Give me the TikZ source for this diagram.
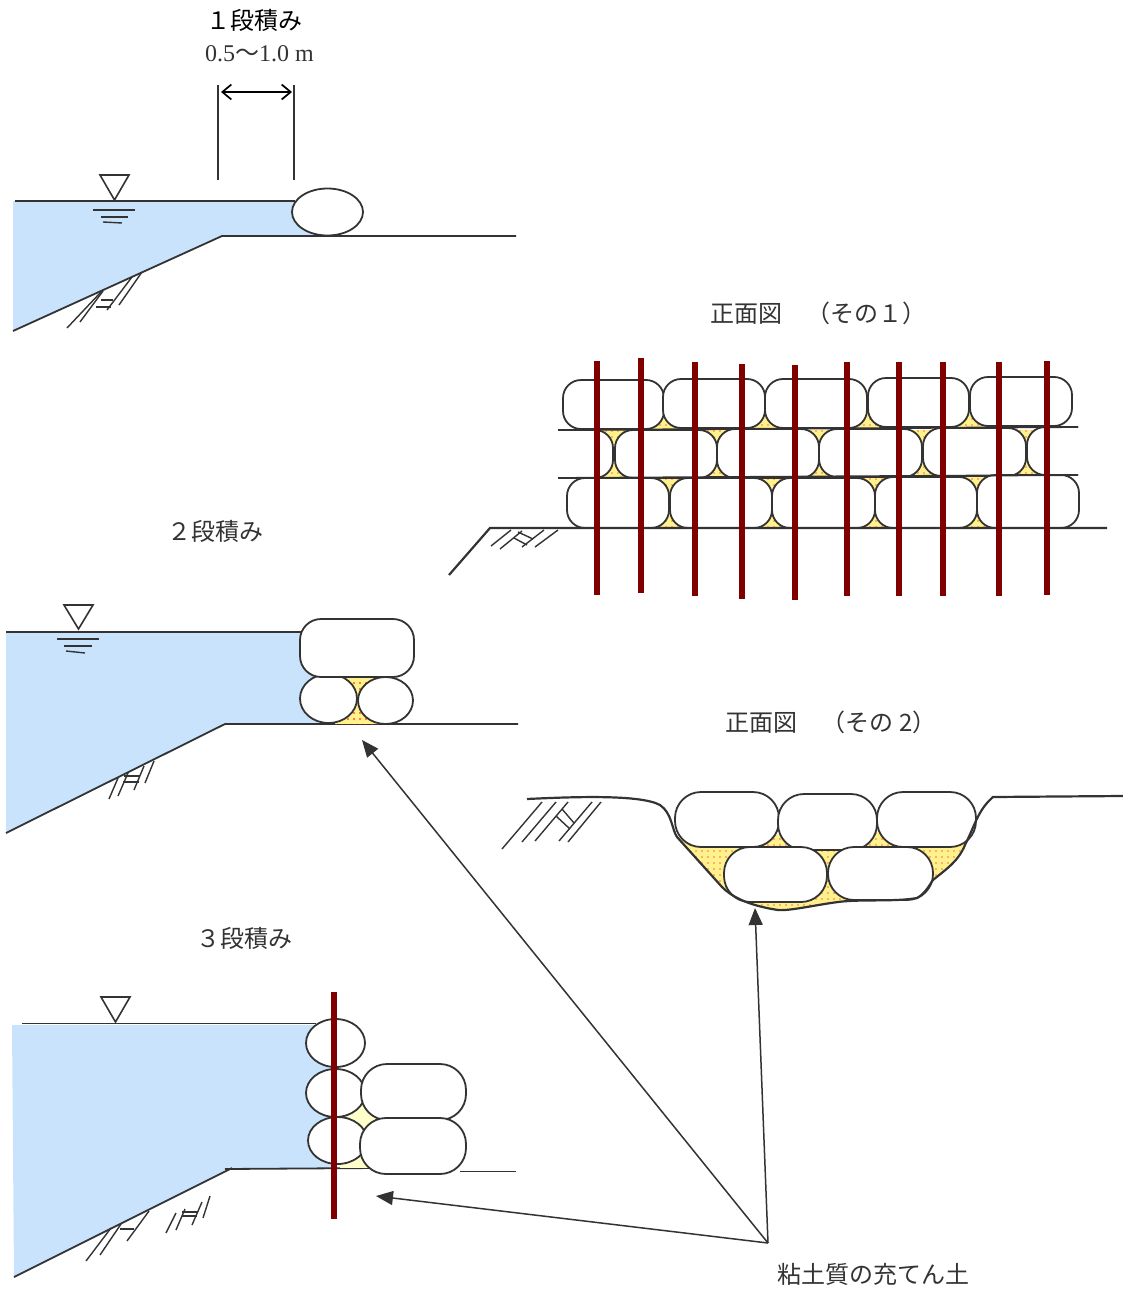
\documentclass[tikz,border=0pt]{standalone}
\usepackage{fontspec}
\setmainfont{Liberation Serif}
\newfontfamily\jpfont{Noto Sans CJK JP}
\usetikzlibrary{arrows.meta,patterns.meta,shapes.geometric}
\definecolor{waterblue}{HTML}{C9E3FC}
\definecolor{clayyellow}{HTML}{FFF28A}
\definecolor{claypale}{HTML}{FFFFCC}
\definecolor{rodred}{HTML}{800000}
\definecolor{inkgray}{HTML}{333333}
\tikzset{
	ink/.style={draw=inkgray,line width=1.8pt},
	thinink/.style={draw=inkgray,line width=1.4pt},
	water/.style={fill=waterblue,draw=none},
	clay/.style={fill=clayyellow,draw=none,postaction={pattern={Dots[radius=.8pt,distance=6pt]},pattern color=#1}},
	clay/.default={red!60!white},
	rod/.style={draw=rodred,line width=6pt},
	wmark/.style={draw=inkgray,line width=1.6pt,fill=white},
	bag/.style={ink,fill=white,rectangle,rounded corners=18pt,inner sep=0pt,minimum width=#1},
	log/.style={ink,fill=white,ellipse,inner sep=0pt},
	caption/.style={font=\fontsize{24}{27}\selectfont,text=inkgray,inner sep=0pt,anchor=center},
	callout/.style={draw=inkgray,line width=1.5pt,-{Triangle[length=17pt,width=14pt]}}
}
\begin{document}
\begin{tikzpicture}[x=1pt,y=-1pt]
	\useasboundingbox (0,0) rectangle (1123,1295);

	% one layer
	\node[caption,text=black] (oneT) at (254,20) {\jpfont １段積み};
	\node[caption] (oneW) at (259.5,53.5) {0.5{\jpfont 〜}1.0 m};
	\fill[water] (13,201) -- (320,201) -- (320,236) -- (222,236) -- (13,331) -- cycle;
	\draw[ink] (15,201) -- (295,201);
	\draw[ink] (13,331) -- (222,236) -- (516,236);
	\draw[thinink] (218,85) -- (218,180);
	\draw[thinink] (294,85) -- (294,180);
	\coordinate (dimL) at (221,92);
	\coordinate (dimR) at (292,92);
	\draw[draw=black,line width=1.7pt,{Straight Barb[length=9pt,width=15pt]}-{Straight Barb[length=9pt,width=15pt]}] (dimL) -- (dimR);
	\node[log,minimum width=71pt,minimum height=47pt] (oneL) at (327.5,212) {};
	\draw[wmark] (100,175) -- (129,175) -- (114.5,200) -- cycle;
	\draw[thinink] (93,210) -- (135,210);
	\draw[thinink] (101,217) -- (128,217);
	\draw[thinink] (103,222) -- (122,223);
	\draw[thinink] (67,328) -- (101,292);
	\draw[thinink] (80,322) -- (103,291);
	\draw[thinink] (107,310) -- (132,277);
	\draw[thinink] (119,305) -- (142,272);
	\draw[thinink] (101,300) -- (113,300);
	\draw[thinink] (96,307) -- (111,307);

	% two layers
	\node[caption] (twoT) at (215.5,531) {\jpfont ２段積み};
	\fill[water] (6,632) -- (328,632) -- (328,724) -- (225,724) -- (6,833) -- cycle;
	\draw[ink] (6,632) -- (302,632);
	\draw[ink] (6,833) -- (225,724) -- (518,724);
	\fill[clay={red}] (335,677) rectangle (382,724);
	\node[log,minimum width=57pt,minimum height=49pt] (twoA) at (328.5,698.5) {};
	\node[log,minimum width=55pt,minimum height=47pt] (twoB) at (385.5,700.5) {};
	\node[bag=114pt,minimum height=58pt,rounded corners=21pt] (twoC) at (357,648) {};
	\draw[wmark] (64,605) -- (93,605) -- (78.5,629) -- cycle;
	\draw[thinink] (57,639) -- (99,639);
	\draw[thinink] (64,646) -- (92,646);
	\draw[thinink] (66,651) -- (85,653);
	\draw[thinink] (109,799) -- (118,778);
	\draw[thinink] (118,796) -- (128,773);
	\draw[thinink] (134,790) -- (144,766);
	\draw[thinink] (145,783) -- (154,761);
	\draw[thinink] (124,776) -- (140,776);
	\draw[thinink] (123,782) -- (139,782);

	% three layers
	\node[caption] (threeT) at (244,938) {\jpfont ３段積み};
	\fill[water] (12,1025) -- (332,1025) -- (332,1168) -- (232,1168) -- (14,1277) -- cycle;
	\draw[ink] (22,1023.5) -- (316,1023.5);
	\draw[ink] (14,1277) -- (232,1168);
	\draw[ink] (225,1169) -- (375,1168);
	\draw[ink] (460,1171.5) -- (516,1171.5);
	\fill[claypale] (340,1105) rectangle (385,1168);
	\node[log,minimum width=59pt,minimum height=48pt] (threeA) at (335.5,1043) {};
	\node[log,minimum width=59pt,minimum height=48pt] (threeB) at (335.5,1093) {};
	\node[log,minimum width=59pt,minimum height=47pt] (threeC) at (337.5,1140.5) {};
	\node[bag=105pt,minimum height=56pt,rounded corners=26pt] (threeD) at (413.5,1092) {};
	\node[bag=106pt,minimum height=56pt,rounded corners=26pt] (threeE) at (413,1146) {};
	\draw[rod] (334,992) -- (334,1219);
	\draw[wmark] (101,997) -- (130,997) -- (115.5,1022) -- cycle;
	\draw[thinink] (86,1261) -- (111,1228);
	\draw[thinink] (100,1255) -- (121,1224);
	\draw[thinink] (127,1241) -- (149,1211);
	\draw[thinink] (120,1229) -- (134,1229);
	\draw[thinink] (166,1233) -- (176,1213);
	\draw[thinink] (176,1230) -- (185,1209);
	\draw[thinink] (192,1225) -- (202,1202);
	\draw[thinink] (203,1218) -- (210,1196);
	\draw[thinink] (182,1212) -- (198,1212);
	\draw[thinink] (182,1216) -- (197,1216);

	% front view 1
	\node[caption] (frontA) at (818,313) {\jpfont 正面図　（その１）};
	\fill[clay] (595,430) rectangle (1045,528);
	\fill[clay] (646,411) rectangle (682,430);
	\fill[clay] (747,411) rectangle (783,429);
	\fill[clay] (849,410) rectangle (885,428);
	\fill[clay] (951,409) rectangle (987,428);
	\node[bag=101pt,minimum height=49pt] (rowA1) at (613.5,404.5) {};
	\node[bag=102pt,minimum height=49pt] (rowA2) at (714,403.5) {};
	\node[bag=102pt,minimum height=49pt] (rowA3) at (816,403.5) {};
	\node[bag=101pt,minimum height=49pt] (rowA4) at (918.5,402.5) {};
	\node[bag=102pt,minimum height=49pt] (rowA5) at (1021,401.5) {};
	\draw[ink,fill=white,rounded corners=18pt] (558,430) -- (613,430) -- (613,478) -- (558,478);
	\node[bag=102pt,minimum height=48pt] (rowB1) at (666,454) {};
	\node[bag=102pt,minimum height=49pt] (rowB2) at (768,453.5) {};
	\node[bag=103pt,minimum height=48pt] (rowB3) at (870.5,453) {};
	\node[bag=103pt,minimum height=48pt] (rowB4) at (974.5,452) {};
	\draw[ink,fill=white,rounded corners=18pt] (1078,427) -- (1027,427) -- (1027,475) -- (1078,475);
	\node[bag=102pt,minimum height=50pt] (rowC1) at (618,503) {};
	\node[bag=102pt,minimum height=50pt] (rowC2) at (721,503) {};
	\node[bag=103pt,minimum height=50pt] (rowC3) at (823.5,503) {};
	\node[bag=102pt,minimum height=51pt] (rowC4) at (926,502.5) {};
	\node[bag=102pt,minimum height=53pt] (rowC5) at (1028,501.5) {};
	\draw[ink] (558,430) -- (1078,427);
	\draw[ink] (558,478) -- (1078,475);
	\draw[ink,line width=2.2pt] (449,575) -- (490,528) -- (1107,528);
	\draw[thinink] (491,546) -- (511,530);
	\draw[thinink] (500,549) -- (522,531);
	\draw[thinink] (522,547) -- (544,530);
	\draw[thinink] (535,547) -- (558,530);
	\draw[thinink] (518,532) -- (533,539);
	\draw[thinink] (514,538) -- (527,545);
	\draw[rod] (597,361) -- (597,595);
	\draw[rod] (641,358) -- (641,593);
	\draw[rod] (695,362) -- (695,596);
	\draw[rod] (742,364) -- (742,599);
	\draw[rod] (795,365) -- (795,600);
	\draw[rod] (847,362) -- (847,596);
	\draw[rod] (899,362) -- (899,596);
	\draw[rod] (943,362) -- (943,596);
	\draw[rod] (999,362) -- (999,596);
	\draw[rod] (1047,361) -- (1047,595);

	% front view 2
	\node[caption] (frontB) at (831,722) {\jpfont 正面図　（その 2）};
	\fill[clay] (677,837) -- (722,887) .. controls (730,895) and (745,905) .. (778,910) .. controls (790,911) and (815,905) .. (838,902) .. controls (860,899) and (895,902) .. (917,898) .. controls (925,894) and (930,884) .. (933,880) .. controls (940,873) and (960,860) .. (972,830) -- cycle;
	\node[bag=104pt,minimum height=55pt,rounded corners=26pt] (lowA) at (727,819.5) {};
	\node[bag=99pt,minimum height=56pt,rounded corners=26pt] (lowB) at (827.5,822) {};
	\node[bag=99pt,minimum height=55pt,rounded corners=26pt] (lowC) at (926.5,819.5) {};
	\node[bag=103pt,minimum height=55pt,rounded corners=26pt] (lowD) at (775.5,874.5) {};
	\node[bag=105pt,minimum height=53pt,rounded corners=26pt] (lowE) at (880.5,873.5) {};
	\draw[ink,line width=2.2pt] (527,799) .. controls (570,797) and (640,794) .. (660,805) .. controls (672,813) and (672,830) .. (677,837) -- (722,887) .. controls (730,895) and (745,905) .. (778,910) .. controls (790,911) and (815,905) .. (838,902) .. controls (860,899) and (895,902) .. (917,898) .. controls (925,894) and (930,884) .. (933,880) .. controls (945,870) and (958,862) .. (965,845) .. controls (975,825) and (978,810) .. (993,797) -- (1123,796);
	\draw[thinink] (502,849) -- (542,802);
	\draw[thinink] (522,842) -- (556,802);
	\draw[thinink] (535,841) -- (568,802);
	\draw[thinink] (559,841) -- (592,802);
	\draw[thinink] (568,842) -- (601,802);
	\draw[thinink] (562,809) -- (574,823);
	\draw[thinink] (556,816) -- (570,829);

	% callouts
	\node[caption] (clayT) at (873.5,1274) {\jpfont 粘土質の充てん土};
	\coordinate (clayP) at (768,1243);
	\coordinate (tipA) at (362,740);
	\coordinate (tipB) at (755,908);
	\coordinate (tipC) at (376,1196);
	\draw[callout] (clayP) -- (tipA);
	\draw[callout] (clayP) -- (tipB);
	\draw[callout] (clayP) -- (tipC);
\end{tikzpicture}
\end{document}
